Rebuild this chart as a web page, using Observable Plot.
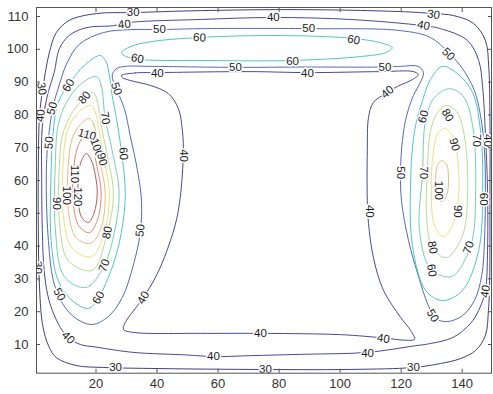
<!DOCTYPE html>
<html>
<head>
<meta charset="utf-8">
<script src="https://cdn.jsdelivr.net/npm/d3@7"></script>
<script src="https://cdn.jsdelivr.net/npm/@observablehq/plot@0.6"></script>
<style>
  html, body { margin: 0; padding: 0; background: #fff; }
  #chart { width: 493px; height: 394px; }
</style>
</head>
<body>
<div id="chart"></div>
<script>
// ---- data (axis units) ----
const levels = [30, 40, 50, 60, 70, 80, 90, 100, 110, 120];
const xTicks = [20, 40, 60, 80, 100, 120, 140];
const yTicks = [10, 20, 30, 40, 50, 60, 70, 80, 90, 100, 110];

const c30 = [[1.1,45],[1.4,29.5],[2.5,16],[4.5,9.5],[7,6],[13.5,3.6],[22.4,3.0],[37.8,2.7],[70.6,2.4],[103.4,2.4],[124,3.0],[132.9,4.2],[139.4,5.7],[144.4,8.2],[147.6,12.8],[148.6,20.4],[149,29.5],[149.1,54],[149.1,78],[148.7,94.5],[147.6,102.7],[143.7,107.9],[137.1,110.3],[130.6,110.9],[119.8,111.5],[87,112.1],[54.2,111.8],[32.2,111.2],[20.1,110.9],[11.2,108.8],[7.0,105.1],[4.7,99],[3.4,92.9],[2.4,87],[1.5,80],[1.1,65]];
const c40outer = [[2.2,60],[2.3,75],[3.2,82],[4.5,87.5],[6.3,92.9],[8.0,100.2],[11.2,104.2],[16.8,106.6],[25.7,107.2],[31.2,108.2],[54.2,109.1],[78.1,109.7],[103.4,109.1],[127.3,107.2],[132.9,106.3],[141.7,102.7],[145.4,96.6],[146.7,88.4],[147.6,74.3],[148.3,57],[148.3,38.7],[147.6,26.5],[145.4,20.4],[142.7,16.4],[137.1,12.2],[129.6,10.3],[124.5,9.6],[108.9,7.6],[87,7.0],[70.6,6.6],[58.5,6.3],[50,6.8],[32.2,7.6],[20.1,9.2],[14.9,10.0],[10.9,12.1],[8.3,15.2],[5.7,20.4],[4.2,25],[3.0,32.5],[2.4,45]];
const c40inner = [[28.3,92.0],[32.9,92.8],[40.1,92.9],[70.6,93.2],[89.3,92.9],[113.2,93.2],[124,93.2],[125.6,92.3],[123.7,90.8],[118.8,88.7],[114.9,86.5],[110.9,83.8],[109.3,79.2],[108.9,69.1],[108.9,53.9],[109.3,46.9],[110.9,36.5],[114.2,26.5],[119.8,18.3],[123.1,14.3],[124.4,11.6],[121.5,11.3],[114.2,12.0],[100.1,13.0],[70.6,13.4],[54.2,13.4],[32.2,13.7],[29.0,14.6],[29.6,16.7],[35.5,24.3],[40.1,31.6],[44.4,41.7],[47.0,50.9],[48.6,67.6],[48.3,75.2],[47.0,81.9],[43.7,86.5],[37.8,89.0],[31.2,90.5],[28.6,91.4]];
const c50 = [[29.6,94.8],[26.7,94.1],[25.3,92.0],[26.7,88.0],[29.3,81.9],[31.2,73.7],[33.6,63.0],[34.9,53.9],[34.5,44.1],[32.2,34.1],[28.6,24.3],[24.0,18.5],[18.8,16.1],[13.5,17.9],[9.0,22.5],[6.0,29.5],[4.4,41.7],[3.7,57.0],[4.0,69.1],[4.7,75.2],[6.0,82.9],[7.6,88.0],[10.3,95.4],[14.5,101.5],[22.4,105.1],[31.2,106.0],[40.8,106.0],[54.2,106.3],[89.7,106.3],[119.8,105.7],[129.6,103.6],[135.5,99.0],[140.1,94.1],[144.0,87.4],[146.0,79.8],[147.3,69.1],[147.6,57.0],[147.3,41.7],[146.4,31.0],[144.0,23.4],[140.1,18.8],[135.2,17.0],[131.3,17.9],[128.9,21.9],[125.6,31.0],[122.4,41.7],[120.1,53.9],[119.8,63.0],[120.4,72.2],[121.8,79.8],[124.0,85.9],[126.3,89.9],[127.3,92.9],[125.6,94.8],[119.8,94.8],[114.5,94.6],[87.0,94.6],[65.7,94.5],[37.8,94.8]];
const c60top = [[28.3,99],[31.2,100.8],[37.8,102.3],[53.9,103.6],[80.4,104.2],[104.4,103.3],[113.2,102],[117.1,100.5],[114.9,99],[106.7,97.8],[84.4,96.6],[54.2,96.6],[34.5,96.9],[29.9,97.8]];
const c60left = [[21.4,98.1],[23.4,96.0],[24.4,92.0],[25.3,85.9],[26.7,78.9],[28.3,69.1],[29.6,56.0],[28.3,44.1],[25.3,33.5],[20.8,24.3],[17.5,21.0],[12.2,23.4],[7.6,29.5],[5.3,41.7],[5.3,63.0],[6.0,75.2],[7.6,83.8],[11.6,89.9],[16.2,95.1]];
const c70left = [[20.1,91.7],[21.7,89.0],[23.0,78.9],[25.3,69.1],[27.6,56.0],[26.0,44.1],[22.7,34.1],[16.8,27.4],[9.6,30.7],[6.7,44.8],[6.7,66.1],[7.6,76.8],[10.3,83.8],[14.9,89.3]];
const c80left = [[19.1,86.8],[20.4,84.4],[21.7,76.8],[23.7,67.6],[25.7,56.0],[23.7,44.1],[18.8,32.6],[10.9,35.6],[8.0,47.8],[8.0,64.6],[9.0,73.7],[12.2,80.7],[16.2,85.0]];
const c90left = [[18.5,82.9],[19.8,80.7],[21.1,75.2],[22.4,67.6],[24.4,56.0],[22.7,44.1],[18.5,36.8],[12.2,39.3],[9.3,49.3],[9.3,66.1],[10.6,75.2],[14.2,80.7]];
const c100left = [[17.8,78.9],[19.4,76.8],[20.8,68.2],[23.0,56.0],[21.4,44.8],[18.1,40.8],[13.5,42.6],[10.9,50.9],[10.9,64.6],[12.2,72.8],[14.9,77.1]];
const c110left = [[17.1,74.6],[18.8,72.8],[19.8,66.7],[21.7,56.0],[20.4,47.8],[17.8,44.1],[14.5,46.0],[12.6,52.4],[12.6,63.0],[14.2,70.7]];
const c120left = [[16.8,68.2],[18.5,66.1],[19.8,61.5],[20.4,56.0],[19.4,50.2],[17.5,47.2],[15.2,49.0],[14.2,53.9],[14.2,60.6],[14.9,65.2]];
const c60right = [[133.5,94.8],[138.8,92.3],[143.4,86.8],[146.0,75.2],[146.7,57.0],[145.4,38.7],[140.1,26.5],[133.5,23.4],[128.0,26.5],[123.7,40.2],[123.1,60.0],[124.4,75.2],[127.0,84.4],[129.6,90.8]];
const c70right = [[135.8,88.0],[140.4,85.6],[143.4,76.8],[144.4,57.0],[142.8,40.2],[136.5,30.7],[129.6,33.2],[126.0,44.8],[127.0,62.4],[128.0,78.3],[130.9,85.3]];
const c80right = [[134.9,82.9],[138.4,80.7],[140.7,73.7],[141.8,57.0],[140.1,43.2],[134.9,36.5],[130.3,39.3],[128.3,49.3],[128.6,62.4],[129.6,75.2],[131.9,80.7]];
const c90right = [[134.2,75.9],[136.8,73.7],[138.4,67.6],[138.8,55.4],[136.8,46.3],[133.8,42.9],[130.9,46.3],[129.9,58.5],[130.6,69.1],[131.9,74.0]];
const c100right = [[133.2,66.1],[134.9,64.9],[135.5,60.6],[134.9,55.4],[133.2,53.6],[131.6,55.4],[131.3,60.6],[131.9,64.6]];

// contour labels: [text, x, y]
const labelItems = [
  ["30",32.2,111.2],["40",29.3,107.6],["50",40.8,106.0],["60",53.9,103.6],["60",33.6,97.2],["40",40.1,92.8],
  ["50",65.7,94.6],["40",78.1,109.8],["50",89.7,106.3],["60",104.4,102.9],["60",84.4,96.4],["40",89.3,92.8],
  ["50",114.7,94.6],["30",130.6,110.6],["40",127.3,107.3],["50",135.5,98.5],["40",115.5,87.0],
  ["30",2.2,88],["60",11.0,89.0],["80",16.2,85.3],["50",26.7,88.0],["70",23.0,79.0],["50",5.6,82],
  ["40",1.8,79.8],["50",4.6,71.5],["110",17.1,74.0],["100",20.3,70.0],["90",22.0,66.5],["60",29.0,68.2],
  ["40",48.6,67.6],["110",13.0,62.0],["120",14.0,55.0],["100",10.5,55.5],["90",7.0,53.0],
  ["40",109.6,50.6],["60",127.3,79.5],["80",135.2,79.9],["90",137.5,71.0],["70",144.7,72.2],["40",148.3,72.2],
  ["50",119.8,62.4],["70",127.3,62.4],["100",132.2,57.0],["60",147.0,54.3],["90",138.6,50.6],
  ["80",130.3,39.6],["70",142.1,39.6],["60",130.0,32.6],["50",130.3,18.8],["40",147.6,26.2],
  ["40",114.2,11.8],["40",109.0,7.3],["30",124.0,2.9],["30",75.5,2.4],["40",58.5,6.4],["40",73.9,13.4],
  ["30",26.4,2.9],["40",10.9,12.1],["50",8.0,25.3],["60",20.8,24.3],["70",22.7,34.1],["80",23.7,44.1],
  ["50",34.5,44.8],["40",35.5,24.3],["30",1.0,33.5]
];
// text angle of each label, same order
const labelAngles = [
  0,-5,0,5,10,0,
  0,0,0,10,0,0,
  0,8,12,45,-40,
  80,-60,-50,70,80,-75,
  -85,-85,15,70,75,85,
  90,90,90,90,90,
  90,-75,60,75,90,90,
  90,90,90,90,90,
  80,-70,80,60,-80,
  10,0,0,0,0,0,
  0,45,60,-60,-70,-80,
  -85,-60,90
];

// ---- styles ----
const lineColors = ["#2a2a78","#333392","#4058b8","#3cbcc8","#62cca8","#b0d884","#ecdc72","#eab070","#dc7c66","#b04444"];

const contourList = [
  [30,c30],[40,c40outer],[40,c40inner],[50,c50],[60,c60top],[60,c60left],[60,c60right],
  [70,c70left],[70,c70right],[80,c80left],[80,c80right],[90,c90left],[90,c90right],
  [100,c100left],[100,c100right],[110,c110left],[120,c120left]
];
const lineRows = contourList.flatMap(([level, pts], id) => pts.map(([x, y]) => ({x, y, level, id})));
const labelRows = labelItems.map(([text, x, y], i) => ({text, x, y, angle: labelAngles[i]}));

const font = "'Liberation Sans', Arial, Helvetica, sans-serif";

const chart = Plot.plot({
  width: 493,
  height: 394,
  marginLeft: 36,
  marginRight: 2,
  marginTop: 7,
  marginBottom: 21.3,
  style: {fontFamily: font, background: "#fff", color: "#333"},
  x: {domain: [0.5, 149.6], label: null},
  y: {domain: [1.25, 112.75], label: null},
  color: {type: "ordinal", domain: levels, range: lineColors},
  marks: [
    Plot.line(lineRows, {x: "x", y: "y", z: "id", stroke: "level", strokeWidth: 0.9, curve: "catmull-rom-closed", clip: true}),
    Plot.text(labelRows, {x: "x", y: "y", text: "text", rotate: "angle", fontSize: 11.5, fill: "#1a1a1a",
      stroke: "white", strokeWidth: 3, paintOrder: "stroke", clip: true}),
    Plot.frame({stroke: "#555", strokeWidth: 1}),
    Plot.axisX(xTicks, {anchor: "bottom", tickSize: 0, tickPadding: 6, fontSize: 13, fill: "#333"}),
    Plot.axisX(xTicks, {anchor: "bottom", tickSize: -4, fill: "none", stroke: "#555"}),
    Plot.axisX(xTicks, {anchor: "top", tickSize: -4, fill: "none", stroke: "#555"}),
    Plot.axisY(yTicks, {anchor: "left", tickSize: 0, tickPadding: 8, fontSize: 13, fill: "#333"}),
    Plot.axisY(yTicks, {anchor: "left", tickSize: -4, fill: "none", stroke: "#555"}),
    Plot.axisY(yTicks, {anchor: "right", tickSize: -4, fill: "none", stroke: "#555"})
  ]
});
document.getElementById("chart").appendChild(chart);
</script>
</body>
</html>
